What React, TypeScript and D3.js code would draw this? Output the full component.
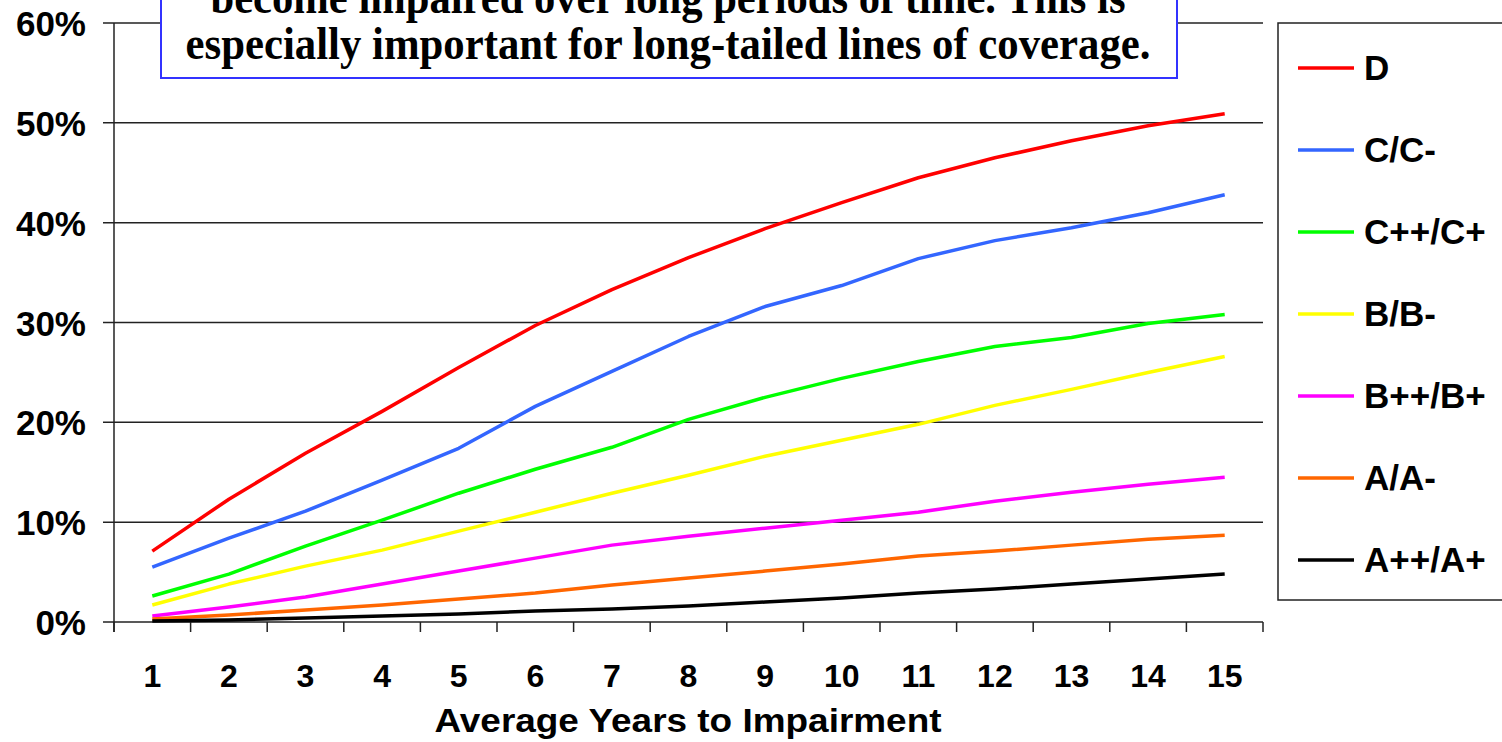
import React from "react";
import * as d3 from "d3";

const years = [1, 2, 3, 4, 5, 6, 7, 8, 9, 10, 11, 12, 13, 14, 15];
const yTicks = [0, 10, 20, 30, 40, 50, 60];

const seriesNames = ["D", "C/C-", "C++/C+", "B/B-", "B++/B+", "A/A-", "A++/A+"];
const seriesColors = ["#ff0000", "#3366ff", "#00ff00", "#ffff00", "#ff00ff", "#ff6600", "#000000"];

const dValues = [7.1, 12.3, 16.9, 21.1, 25.5, 29.7, 33.3, 36.5, 39.4, 42.0, 44.5, 46.5, 48.2, 49.7, 50.9];
const cValues = [5.5, 8.4, 11.1, 14.2, 17.4, 21.6, 25.1, 28.6, 31.6, 33.7, 36.4, 38.2, 39.5, 41.0, 42.8];
const cppValues = [2.6, 4.8, 7.6, 10.2, 12.9, 15.3, 17.5, 20.3, 22.5, 24.4, 26.1, 27.6, 28.5, 29.9, 30.8];
const bValues = [1.7, 3.8, 5.6, 7.2, 9.1, 11.0, 12.9, 14.7, 16.6, 18.2, 19.8, 21.7, 23.3, 25.0, 26.6];
const bppValues = [0.6, 1.5, 2.5, 3.8, 5.1, 6.4, 7.7, 8.6, 9.4, 10.2, 11.0, 12.1, 13.0, 13.8, 14.5];
const aValues = [0.3, 0.7, 1.2, 1.7, 2.3, 2.9, 3.7, 4.4, 5.1, 5.8, 6.6, 7.1, 7.7, 8.3, 8.7];
const appValues = [0.1, 0.2, 0.4, 0.6, 0.8, 1.1, 1.3, 1.6, 2.0, 2.4, 2.9, 3.3, 3.8, 4.3, 4.8];

const seriesValues = [dValues, cValues, cppValues, bValues, bppValues, aValues, appValues];

const noteLines = [
  "become impaired over long periods of time. This is",
  "especially important for long-tailed lines of coverage.",
];

const xTitle = "Average Years to Impairment";

export default function App() {
  const W = 1502;
  const H = 742;
  const left = 114;
  const right = 1263;
  const top = 23;
  const bottom = 622;

  const x = d3.scaleBand<number>().domain(years).range([left, right]);
  const y = d3.scaleLinear().domain([0, 60]).range([bottom, top]);
  const line = d3
    .line<number>()
    .x((_, i) => (x(years[i]) as number) + x.bandwidth() / 2)
    .y((v) => y(v))
    .curve(d3.curveLinear);

  const sans = "'Liberation Sans', Arial, sans-serif";
  const serif = "'Liberation Serif', 'Times New Roman', serif";
  const boundaries = [...years.map((yr) => x(yr) as number), right];

  const legendX = 1278;
  const legendTop = 23;
  const legendBottom = 600;
  const legendY0 = 68;
  const legendStep = 82;

  return (
    <svg
      width={W}
      height={H}
      style={{ position: "absolute", left: 0, top: 0, background: "#fff" }}
    >
      <rect x={0} y={0} width={W} height={H} fill="#fff" />
      {yTicks.map((t) => (
        <line key={"g" + t} x1={left - 11} x2={right} y1={y(t)} y2={y(t)} stroke="#222" strokeWidth={1.5} />
      ))}
      <line x1={left} x2={left} y1={top} y2={bottom + 10} stroke="#222" strokeWidth={1.5} />
      {boundaries.map((b, i) => (
        <line key={"xt" + i} x1={b} x2={b} y1={bottom} y2={bottom + 10} stroke="#222" strokeWidth={1.5} />
      ))}
      {yTicks.map((t) => (
        <text
          key={"yl" + t}
          x={86}
          y={y(t) + 13}
          textAnchor="end"
          fontFamily={sans}
          fontWeight="bold"
          fontSize={35}
          fill="#000"
        >
          {t + "%"}
        </text>
      ))}
      {years.map((yr) => (
        <text
          key={"xl" + yr}
          x={(x(yr) as number) + x.bandwidth() / 2}
          y={687}
          textAnchor="middle"
          fontFamily={sans}
          fontWeight="bold"
          fontSize={32}
          fill="#000"
        >
          {yr}
        </text>
      ))}
      <text
        x={688}
        y={732}
        textAnchor="middle"
        fontFamily={sans}
        fontWeight="bold"
        fontSize={34}
        textLength={507}
        lengthAdjust="spacingAndGlyphs"
        fill="#000"
      >
        {xTitle}
      </text>
      {seriesValues.map((vals, i) => (
        <path
          key={"s" + i}
          d={line(vals) || ""}
          fill="none"
          stroke={seriesColors[i]}
          strokeWidth={3.5}
          strokeLinejoin="round"
        />
      ))}
      <rect x={161} y={-60} width={1016} height={138} fill="#fff" stroke="#3333ff" strokeWidth={2} />
      {noteLines.map((l, i) => (
        <text
          key={"n" + i}
          x={668}
          y={13 + i * 46}
          textAnchor="middle"
          fontFamily={serif}
          fontWeight="bold"
          fontSize={46}
          textLength={i === 1 ? 965 : 915}
          lengthAdjust="spacingAndGlyphs"
          fill="#000"
        >
          {l}
        </text>
      ))}
      <rect
        x={legendX}
        y={legendTop}
        width={W - legendX + 10}
        height={legendBottom - legendTop}
        fill="#fff"
        stroke="#222"
        strokeWidth={1.5}
      />
      {seriesNames.map((n, i) => (
        <g key={"lg" + i}>
          <line
            x1={1298}
            x2={1354}
            y1={legendY0 + i * legendStep}
            y2={legendY0 + i * legendStep}
            stroke={seriesColors[i]}
            strokeWidth={3.5}
          />
          <text
            x={1364}
            y={legendY0 + i * legendStep + 12}
            fontFamily={sans}
            fontWeight="bold"
            fontSize={35}
            fill="#000"
          >
            {n}
          </text>
        </g>
      ))}
    </svg>
  );
}
